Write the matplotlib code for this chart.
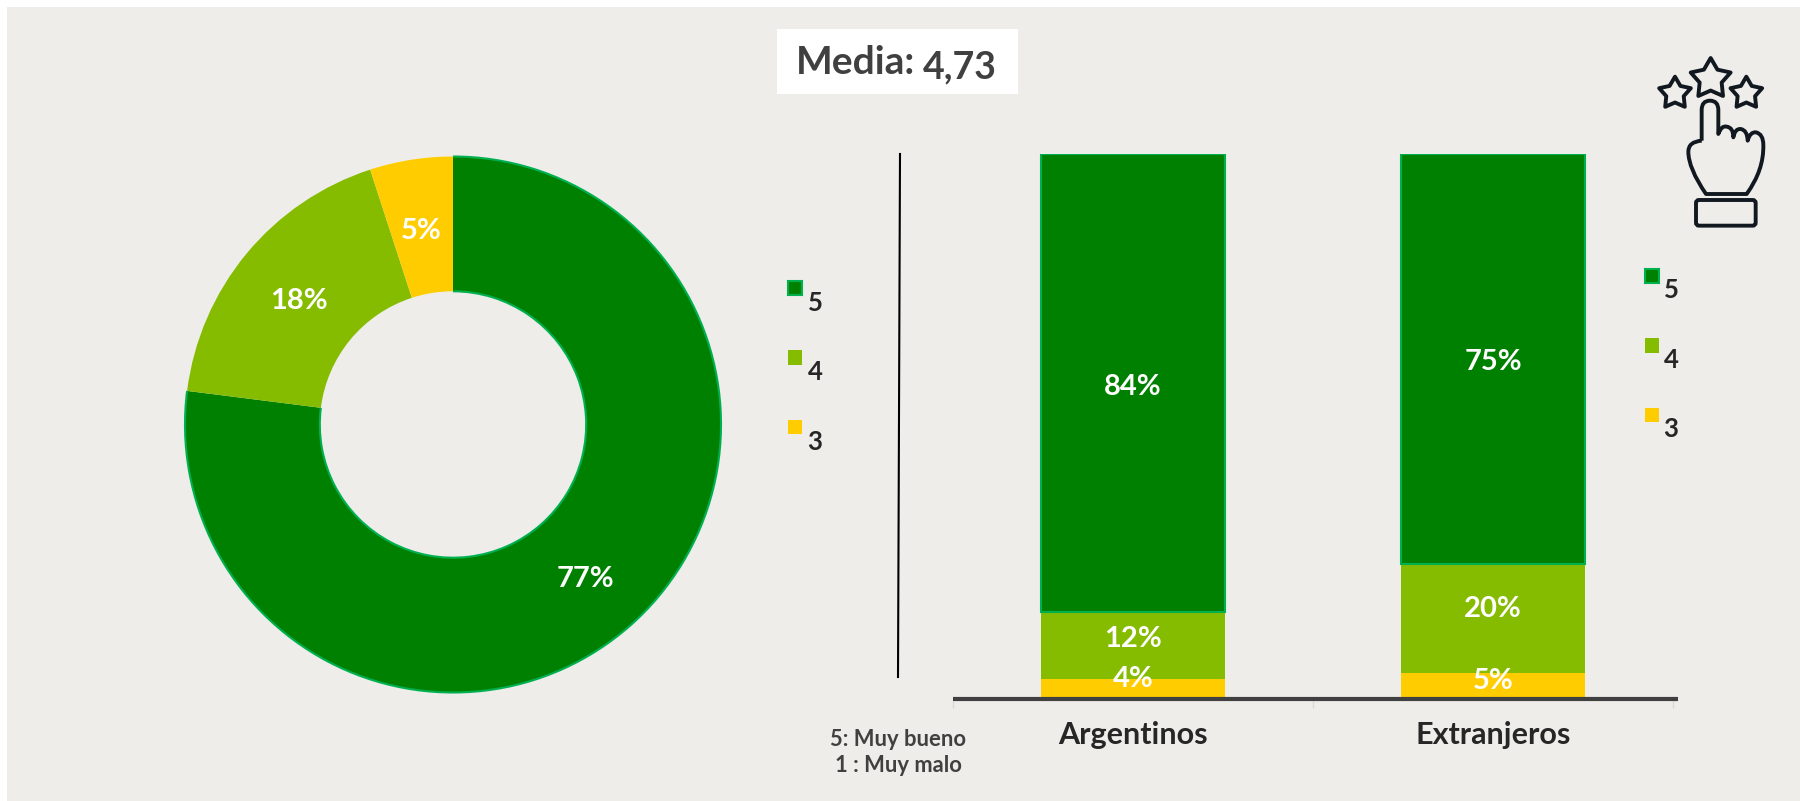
import matplotlib
matplotlib.use('Agg')
import matplotlib.pyplot as plt
from matplotlib.patches import Rectangle, FancyBboxPatch, PathPatch, Polygon, Arc
from matplotlib.path import Path
import numpy as np

W, H = 1800, 801

plt.rcParams['font.family'] = ['Lato', 'DejaVu Sans']

# data
ratings = ['5', '4', '3']
total_values = [77, 18, 5]
total_labels = ['77%', '18%', '5%']
groups = ['Argentinos', 'Extranjeros']
group_5 = [84.4, 75.5]
group_4 = [12.3, 20.1]
group_3 = [3.3, 4.4]
group_labels = [['84%', '75%'], ['12%', '20%'], ['4%', '5%']]

GREEN = '#008000'
LIME = '#85BC00'
YELLOW = '#FFCC00'
EDGE = '#00B050'
BG = '#EEEDE9'
colors = [GREEN, LIME, YELLOW]


def px_axes(left, top, right, bottom):
    return fig.add_axes([left / W, 1 - bottom / H, (right - left) / W, (bottom - top) / H])


fig = plt.figure(figsize=(W / 100, H / 100), dpi=100, facecolor='white')

# overlay in pixel coords, for background and decoration
bg = fig.add_axes([0, 0, 1, 1], zorder=0)
bg.set_xlim(0, W)
bg.set_ylim(H, 0)
bg.axis('off')
bg.add_patch(Rectangle((7, 7), W - 7, H - 7, fc=BG, ec='none'))

# donut
cx0, cy0 = 453, 424.5
ax1 = px_axes(cx0 - 268, cy0 - 268, cx0 + 268, cy0 + 268)
ax1.patch.set_alpha(0)
hole = 0.497
wedges, _ = ax1.pie(total_values, colors=colors, startangle=90, counterclock=False, radius=1,
                    wedgeprops=dict(width=1 - hole, linewidth=0))
ax1.set_xlim(-1, 1)
ax1.set_ylim(-1, 1)
# outline only on the arcs of the big slice
for d in [2, 2 * hole]:
    ax1.add_patch(Arc((0, 0), d, d, theta1=wedges[0].theta1, theta2=wedges[0].theta2,
                      color=EDGE, lw=1.5, clip_on=False))
theta = 0
for v, lab in zip(total_values, total_labels):
    mid = np.deg2rad(90 - (theta + v / 2 * 3.6))
    theta += v * 3.6
    ax1.text(0.748 * np.cos(mid), 0.748 * np.sin(mid) - 0.015, lab, color='white', fontsize=21,
             fontweight='bold', ha='center', va='center')

# stacked bars
ax2 = px_axes(953, 154, 1673, 697)
ax2.patch.set_alpha(0)
x = np.arange(len(groups))
width = 0.512
ax2.bar(x, group_3, width, color=YELLOW, linewidth=0)
ax2.bar(x, group_4, width, bottom=group_3, color=LIME, linewidth=0)
ax2.bar(x, group_5, width, bottom=np.add(group_3, group_4), color=GREEN, edgecolor=EDGE, linewidth=1.5)
ax2.set_xlim(-0.5, 1.5)
ax2.set_ylim(0, 100)
ax2.set_yticks([])
ax2.set_xticks([-0.5, 0.5, 1.5])
ax2.set_xticklabels([])
ax2.tick_params(axis='x', length=8, width=1, color='#D9D9D9')
for s in ['top', 'left', 'right', 'bottom']:
    ax2.spines[s].set_visible(False)

bottoms = [np.add(group_3, group_4), group_3, np.zeros(2)]
heights = [group_5, group_4, group_3]
shifts = [[-4, -3], [7, 10], [9, 4]]
for i in range(3):
    for j in range(2):
        ax2.annotate(group_labels[i][j], (x[j], bottoms[i][j] + heights[i][j] / 2),
                     xytext=(0, shifts[i][j] * 0.72), textcoords='offset points', color='white',
                     fontsize=21, fontweight='bold', ha='center', va='center')
for j, g in enumerate(groups):
    ax2.annotate(g, (x[j], 0), xytext=(0, -38 * 0.72), textcoords='offset points', color='#262626',
                 fontsize=22, fontweight='bold', ha='center', va='center')

# overlay for legend, boxes, icon
ov = fig.add_axes([0, 0, 1, 1], zorder=5)
ov.set_xlim(0, W)
ov.set_ylim(H, 0)
ov.axis('off')
ov.patch.set_alpha(0)

# axis line runs a little past the last tick
ov.plot([953, 1678], [698.5, 698.5], color='#404040', lw=3, solid_capstyle='butt')
# divider
ov.plot([900, 898], [154, 677], color='black', lw=1.5)

# legends
for lx, ly, tx, ty in [(787, 280, 815, 303), (1644, 268, 1671, 290)]:
    for i, r in enumerate(ratings):
        dy = i * 69.5
        ec = EDGE if i == 0 else 'none'
        ov.add_patch(Rectangle((lx + 0.5, ly + dy + 0.5), 14.5, 14.5, fc=colors[i], ec=ec, lw=1.5))
        ov.text(tx, ty + dy, r, color='#262626', fontsize=18.5, fontweight='bold', ha='center', va='center')

# media box
ov.add_patch(Rectangle((777, 29), 241, 65, fc='white', ec='none'))
ov.text(796, 63, 'Media:', color='#404040', fontsize=28, fontweight='bold', ha='left', va='center')
ov.text(923, 67, '4,73', color='#404040', fontsize=27, fontweight='bold', ha='left', va='center')

# footnote
ov.text(898, 739, '5: Muy bueno', color='#404040', fontsize=15.8, fontweight='bold', ha='center', va='center')
ov.text(898, 765, '1 : Muy malo', color='#404040', fontsize=15.8, fontweight='bold', ha='center', va='center')

# icon
ICON = '#111820'


def zx(v):
    return 1600 + v / 3


def zy(v):
    return 30 + v / 3


for cx, cy, r in [(225, 190, 50), (332, 147, 63), (439, 190, 50)]:
    ang = np.deg2rad(np.arange(10) * 36 - 90)
    rad = np.where(np.arange(10) % 2 == 0, r, r * 0.55)
    pts = np.column_stack([zx(cx + rad * np.cos(ang)), zy(cy + rad * np.sin(ang))])
    ov.add_patch(Polygon(pts, closed=True, fc='none', ec=ICON, lw=2.8, joinstyle='round'))

hand = [
    (Path.MOVETO, (305, 332)), (Path.LINETO, (305, 240)),
    (Path.CURVE3, (305, 212)), (Path.CURVE3, (330, 212)),
    (Path.CURVE3, (355, 212)), (Path.CURVE3, (355, 240)),
    (Path.LINETO, (355, 312)),
    (Path.CURVE3, (365, 285)), (Path.CURVE3, (380, 290)),
    (Path.CURVE3, (400, 292)), (Path.CURVE3, (400, 322)),
    (Path.CURVE3, (405, 295)), (Path.CURVE3, (422, 297)),
    (Path.CURVE3, (442, 300)), (Path.CURVE3, (443, 332)),
    (Path.CURVE3, (450, 305)), (Path.CURVE3, (468, 307)),
    (Path.CURVE3, (490, 312)), (Path.CURVE3, (490, 345)),
    (Path.CURVE3, (492, 420)), (Path.CURVE3, (440, 492)),
    (Path.LINETO, (318, 492)),
    (Path.CURVE3, (265, 415)), (Path.CURVE3, (265, 365)),
    (Path.CURVE3, (265, 335)), (Path.CURVE3, (305, 332)),
]
codes = [c for c, _ in hand]
verts = [(zx(p[0]), zy(p[1])) for _, p in hand]
ov.add_patch(PathPatch(Path(verts, codes), fc='none', ec=ICON, lw=2.8, joinstyle='round'))
ov.add_patch(FancyBboxPatch((zx(288) + 3, zy(510) + 3), 179 / 3 - 6, 77 / 3 - 6, boxstyle='round,pad=3',
                            fc='none', ec=ICON, lw=2.8))

fig.savefig('out.png', dpi=100, facecolor=fig.get_facecolor())
